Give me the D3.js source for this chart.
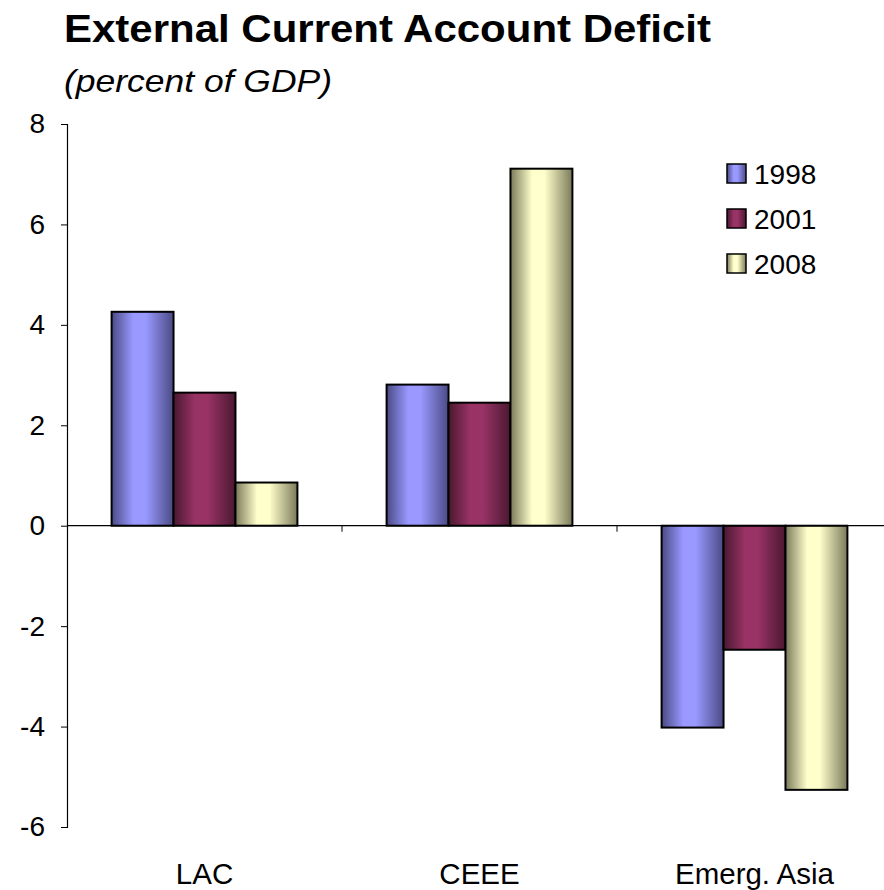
<!DOCTYPE html>
<html lang="en">
<head>
  <meta charset="UTF-8">
  <title>External Current Account Deficit</title>
  <style>
    body { margin: 0; padding: 0; background: #fff; }
    svg { display: block; font-family: Arial, "Liberation Sans", sans-serif; }
  </style>
</head>
<body>
  <div id="chart"></div>
  <script src="https://cdnjs.cloudflare.com/ajax/libs/d3/7.8.5/d3.min.js"></script>
  <script>
    'use strict';

    const regions = ['LAC', 'CEEE', 'Emerg. Asia'];
    const years = ['1998', '2001', '2008'];
    const v1998 = [4.26, 2.81, -4.02];
    const v2001 = [2.65, 2.45, -2.47];
    const v2008 = [0.86, 7.11, -5.26];
    const yTicks = [8, 6, 4, 2, 0, -2, -4, -6];

    const series = [v1998, v2001, v2008];
    const shades = [
      { edge: '#4a4a85', mid: '#9999ff' },
      { edge: '#4a1830', mid: '#993366' },
      { edge: '#7a7a5a', mid: '#ffffcc' }
    ];

    const w = 884, h = 890;
    const plotLeft = 67, plotRight = 892, plotTop = 124, plotBottom = 827;

    const svg = d3.select('#chart').append('svg')
      .attr('width', w)
      .attr('height', h);

    // gradients for the cylinder look
    const defs = svg.append('defs');
    shades.forEach((s, i) => {
      const g = defs.append('linearGradient')
        .attr('id', `grad${i}`)
        .attr('x1', '0%').attr('x2', '100%')
        .attr('y1', '0%').attr('y2', '0%');
      g.append('stop').attr('offset', '0%').attr('stop-color', s.edge);
      g.append('stop').attr('offset', '35%').attr('stop-color', s.mid);
      g.append('stop').attr('offset', '55%').attr('stop-color', s.mid);
      g.append('stop').attr('offset', '100%').attr('stop-color', s.edge);
    });

    const x = d3.scaleBand().domain(regions).range([plotLeft, plotRight]);
    const xInner = d3.scaleBand().domain(years)
      .range([0, x.bandwidth()]).paddingInner(0).paddingOuter(0.72);
    const y = d3.scaleLinear().domain([-6, 8]).range([plotBottom, plotTop]);

    // title
    svg.append('text')
      .attr('x', 64).attr('y', 42)
      .attr('font-size', 38).attr('font-weight', 'bold')
      .attr('textLength', 647).attr('lengthAdjust', 'spacingAndGlyphs')
      .text('External Current Account Deficit');
    svg.append('text')
      .attr('x', 64).attr('y', 92)
      .attr('font-size', 32).attr('font-style', 'italic')
      .attr('textLength', 268).attr('lengthAdjust', 'spacingAndGlyphs')
      .text('(percent of GDP)');

    // y axis
    const yAxis = svg.append('g')
      .attr('transform', `translate(${plotLeft},0)`)
      .call(d3.axisLeft(y).tickValues(yTicks).tickSize(6).tickPadding(16)
        .tickFormat(d => String(d)));
    yAxis.select('.domain').attr('stroke', '#000').attr('stroke-width', 1.2);
    yAxis.selectAll('.tick line').attr('stroke', '#000');
    yAxis.selectAll('.tick text')
      .attr('font-size', 28).attr('fill', '#000')
      .attr('font-family', 'Arial, "Liberation Sans", sans-serif');

    // bars
    regions.forEach((r, ri) => {
      series.forEach((vals, si) => {
        const v = vals[ri];
        svg.append('rect')
          .attr('x', x(r) + xInner(years[si]))
          .attr('y', y(Math.max(0, v)))
          .attr('width', xInner.bandwidth())
          .attr('height', Math.abs(y(v) - y(0)))
          .attr('fill', `url(#grad${si})`)
          .attr('stroke', '#000')
          .attr('stroke-width', 2);
      });
    });

    // zero line with category ticks
    svg.append('line')
      .attr('x1', plotLeft).attr('x2', w)
      .attr('y1', y(0)).attr('y2', y(0))
      .attr('stroke', '#000').attr('stroke-width', 1.2);
    regions.slice(1).forEach(r => {
      svg.append('line')
        .attr('x1', x(r)).attr('x2', x(r))
        .attr('y1', y(0)).attr('y2', y(0) + 6)
        .attr('stroke', '#000');
    });

    // category labels
    svg.selectAll('.cat')
      .data(regions)
      .enter().append('text')
      .attr('class', 'cat')
      .attr('x', d => x(d) + x.bandwidth() / 2)
      .attr('y', 884)
      .attr('text-anchor', 'middle')
      .attr('font-size', 29.5)
      .text(d => d);

    // legend
    const legend = svg.append('g').attr('transform', 'translate(727,164)');
    years.forEach((yr, i) => {
      const row = legend.append('g').attr('transform', `translate(0,${i * 45})`);
      row.append('rect')
        .attr('width', 19).attr('height', 19)
        .attr('fill', `url(#grad${i})`)
        .attr('stroke', '#000').attr('stroke-width', 1.5);
      row.append('text')
        .attr('x', 27).attr('y', 19.5)
        .attr('font-size', 28)
        .text(yr);
    });
  </script>
</body>
</html>
